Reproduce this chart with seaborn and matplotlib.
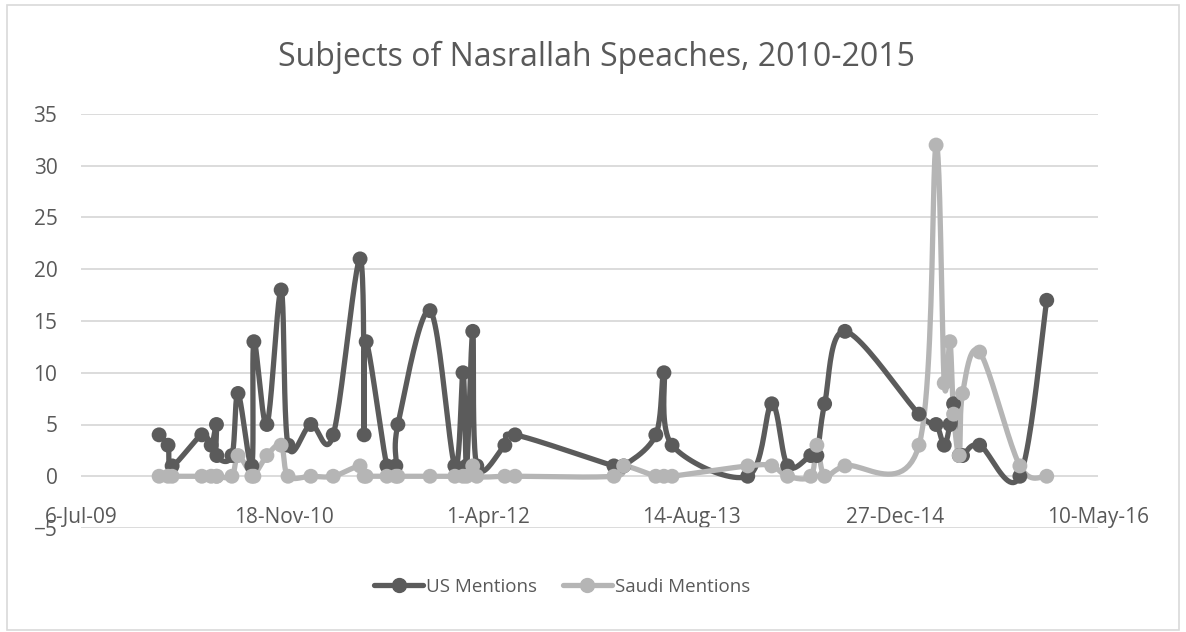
import numpy as np
import pandas as pd
import matplotlib
matplotlib.use('Agg')
import matplotlib.pyplot as plt
import matplotlib.dates as mdates
from matplotlib.lines import Line2D
from matplotlib.patches import Rectangle
import seaborn as sns

# speech dates and mention counts
speech_dates = [
    '2010-01-14', '2010-02-05', '2010-02-15', '2010-04-29', '2010-05-22', '2010-06-04',
    '2010-06-05', '2010-07-12', '2010-07-27', '2010-08-30', '2010-09-04', '2010-10-06',
    '2010-11-10', '2010-11-27', '2011-01-22', '2011-03-18', '2011-05-23', '2011-06-02',
    '2011-06-07', '2011-07-28', '2011-08-19', '2011-08-24', '2011-11-11', '2012-01-11',
    '2012-01-31', '2012-02-09', '2012-02-24', '2012-03-05', '2012-05-13', '2012-06-07',
    '2013-02-05', '2013-03-01', '2013-05-19', '2013-06-08', '2013-06-28', '2013-12-31',
    '2014-02-28', '2014-04-08', '2014-06-04', '2014-06-19', '2014-07-08', '2014-08-27',
    '2015-02-25', '2015-04-08', '2015-04-28', '2015-05-12', '2015-05-21', '2015-06-04',
    '2015-06-12', '2015-07-24', '2015-10-31', '2016-01-05',
]
us_mentions = [
    4, 3, 1, 4, 3, 5,
    2, 2, 8, 1, 13, 5,
    18, 3, 5, 4, 21, 4,
    13, 1, 1, 5, 16, 1,
    10, 1, 14, 1, 3, 4,
    1, 1, 4, 10, 3, 0,
    7, 1, 2, 2, 7, 14,
    6, 5, 3, 5, 7, 2,
    2, 3, 0, 17,
]
saudi_mentions = [
    0, 0, 0, 0, 0, 0,
    0, 0, 2, 0, 0, 2,
    3, 0, 0, 0, 1, 0,
    0, 0, 0, 0, 0, 0,
    0, 0, 1, 0, 0, 0,
    0, 1, 0, 0, 0, 1,
    1, 0, 0, 3, 0, 1,
    3, 32, 9, 13, 6, 2,
    8, 12, 1, 0,
]
tick_labels = ['6-Jul-09', '18-Nov-10', '1-Apr-12', '14-Aug-13', '27-Dec-14', '10-May-16']

title = 'Subjects of Nasrallah Speaches, 2010-2015'
us_color = '#5b5b5b'
saudi_color = '#b5b5b5'
text_color = '#595959'


def smooth(xs, ys, n=24):
    # Excel-like smoothed line: Bezier segments with Catmull-Rom control points
    pts = np.column_stack([xs, ys]).astype(float)
    P = np.vstack([pts[0], pts, pts[-1]])
    out = [pts[:1]]
    t = np.linspace(0, 1, n)[1:, None]
    for i in range(1, len(P) - 2):
        p0, p1, p2, p3 = P[i - 1], P[i], P[i + 1], P[i + 2]
        c1 = p1 + (p2 - p0) / 6
        c2 = p2 - (p3 - p1) / 6
        seg = (1 - t) ** 3 * p1 + 3 * (1 - t) ** 2 * t * c1 + 3 * (1 - t) * t ** 2 * c2 + t ** 3 * p2
        out.append(seg)
    return np.vstack(out)


sns.set_style('white')
plt.rcParams['font.family'] = ['Open Sans', 'DejaVu Sans']

x = mdates.date2num(pd.to_datetime(speech_dates))
tick_pos = mdates.date2num(pd.to_datetime(tick_labels, format='%d-%b-%y'))

fig = plt.figure(figsize=(11.86, 6.32), dpi=100)
ax = fig.add_axes([81 / 1186, 1 - 528 / 632, (1098 - 81) / 1186, (528 - 114) / 632])

for vals, col in [(us_mentions, us_color), (saudi_mentions, saudi_color)]:
    curve = smooth(x, vals)
    sns.lineplot(x=curve[:, 0], y=curve[:, 1], sort=False, estimator=None,
                 color=col, lw=3.8, ax=ax, zorder=2)
    sns.scatterplot(x=x, y=vals, color=col, s=115, edgecolor='none', ax=ax, zorder=3)

ax.set_xlim(tick_pos[0], tick_pos[-1])
ax.set_ylim(-5, 35)
ax.set_yticks(np.arange(-5, 36, 5))
ax.set_xticks(tick_pos)
ax.set_xticklabels(tick_labels)
ax.grid(axis='y', color='#d9d9d9', lw=1.3)
ax.grid(axis='x', visible=False)
for s in ax.spines.values():
    s.set_visible(False)
ax.tick_params(axis='x', length=0, pad=-15, labelsize=15, labelcolor=text_color)
ax.tick_params(axis='y', length=0, pad=17, labelsize=15, labelcolor=text_color)
ax.set_xlabel('')
ax.set_ylabel('')

fig.text(596 / 1186, 1 - 57 / 632, title, ha='center', va='center',
         fontsize=23, color=text_color)

handles = [
    Line2D([], [], color=us_color, lw=3.8, marker='o', markersize=10),
    Line2D([], [], color=saudi_color, lw=3.8, marker='o', markersize=10),
]
fig.legend(handles, ['US Mentions', 'Saudi Mentions'], loc='center',
           bbox_to_anchor=(562 / 1186, 1 - 587 / 632), ncol=2, frameon=False,
           fontsize=13.5, labelcolor=text_color, handlelength=2.6,
           handletextpad=0.15, columnspacing=1.4)

fig.patches.append(Rectangle((7 / 1186, 2 / 632), 1172 / 1186, 625 / 632,
                             transform=fig.transFigure, fill=False,
                             edgecolor='#d9d9d9', lw=1.2))

fig.savefig('out.png', dpi=100)
